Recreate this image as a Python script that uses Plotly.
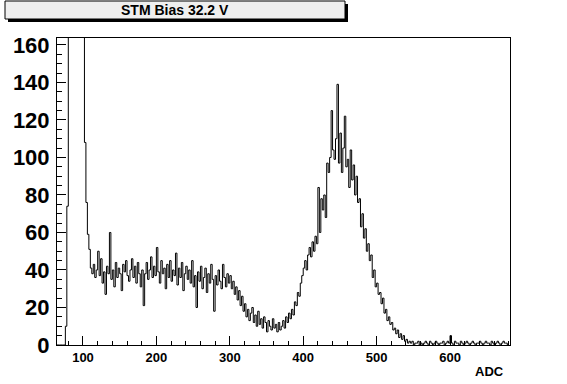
import plotly.graph_objects as go

# ---- data ----
title_text = "STM Bias 32.2 V"
x_title = "ADC"
bin_start = 64
bin_width = 2
counts = [
    0, 0, 0, 0, 0, 0, 10, 74, 190, 260,            # 64-82
    330, 380, 420, 430, 410, 380, 330, 270, 210, 108,  # 84-102
    76, 59, 51, 41, 38, 43, 36, 40, 50, 37,        # 104-122
    46, 33, 39, 27, 42, 38, 60, 35, 40, 31,        # 124-142
    44, 36, 41, 38, 29, 43, 39, 45, 37, 34,        # 144-162
    40, 46, 36, 42, 33, 44, 38, 31, 40, 21,        # 164-182
    38, 44, 35, 40, 47, 36, 42, 37, 52, 39,        # 184-202
    33, 45, 38, 41, 30, 43, 36, 45, 34, 40,        # 204-222
    37, 49, 32, 41, 36, 44, 29, 38, 42, 35,        # 224-242
    40, 33, 45, 31, 37, 20, 39, 34, 42, 30,        # 244-262
    36, 41, 28, 38, 33, 43, 35, 18, 37, 32,        # 264-282
    40, 34, 30, 43, 36, 31, 38, 33, 37, 30,        # 284-302
    34, 27, 31, 24, 29, 21, 26, 18, 22, 15,        # 304-322
    19, 13, 17, 20, 12, 16, 10, 18, 11, 14,        # 324-342
    9, 15, 12, 7, 13, 10, 8, 14, 9, 11,            # 344-362
    7, 12, 8, 10, 13, 9, 15, 12, 17, 14,           # 364-382
    19, 16, 23, 21, 28, 26, 33, 37, 41, 45,        # 384-402
    40, 48, 52, 47, 55, 50, 58, 54, 84, 60,        # 404-422
    78, 72, 80, 68, 97, 92, 100, 125, 104, 99,     # 424-442
    110, 139, 97, 113, 92, 105, 122, 95, 99, 84,   # 444-462
    104, 88, 96, 80, 90, 76, 78, 63, 70, 57,       # 464-482
    62, 50, 54, 45, 48, 36, 40, 31, 33, 27,        # 484-502
    28, 22, 25, 17, 19, 13, 15, 11, 12, 8,         # 504-522
    9, 6, 8, 4, 6, 3, 5, 2, 3, 1,                  # 524-542
    2, 1, 2, 0, 1, 1, 2, 0, 1, 0,                  # 544-562
    1, 2, 1, 0, 2, 1, 0, 1, 2, 1,                  # 564-582
    0, 1, 1, 2, 0, 1, 2, 1, 5, 1,                  # 584-602
    0, 2, 1, 1, 0, 2, 1, 0, 1, 2,                  # 604-622
    1, 0, 1, 2, 1, 0, 1, 1, 2, 1,                  # 624-642
    0, 1, 2, 1, 1, 0, 2, 1, 0, 1,                  # 644-662
    2, 1, 0, 1, 2, 1, 1, 0,                        # 664-678
]
x_ticks = [100, 200, 300, 400, 500, 600]
y_ticks = [0, 20, 40, 60, 80, 100, 120, 140, 160]

# ---- build step outline ----
edges = [bin_start + bin_width * i for i in range(len(counts) + 1)]
ys = counts + [counts[-1]]

W, H = 567, 384
L, R, T, B = 57, 510, 38, 345  # plot area in pixels


def px(x):
    return (x - L) / (R - L)


def py(y):
    return (B - y) / (B - T)


fig = go.Figure()
fig.add_trace(go.Scatter(
    x=edges, y=ys, mode="lines", line=dict(color="black", width=1, shape="hv"),
    hoverinfo="skip", showlegend=False,
))

bold13 = dict(family="Liberation Sans, Arial, sans-serif", size=13, color="black", weight="bold")
bold22 = dict(family="Liberation Sans, Arial, sans-serif", size=22, color="black", weight="bold")

fig.update_layout(
    width=W, height=H,
    margin=dict(l=L, r=W - R, t=T, b=H - B, pad=0),
    paper_bgcolor="white", plot_bgcolor="white",
    showlegend=False,
)
fig.update_xaxes(
    range=[64.6, 681.7], tickmode="array", tickvals=x_ticks,
    ticks="inside", ticklen=9, tickcolor="black", tickwidth=1,
    showline=True, linecolor="black", linewidth=1, mirror=True,
    showgrid=False, zeroline=False, tickfont=bold13,
    minor=dict(ticks="inside", ticklen=4, dtick=20, tick0=0, tickcolor="black", showgrid=False),
)
fig.update_yaxes(
    range=[0, 163.7], tickmode="array", tickvals=y_ticks,
    ticks="inside", ticklen=9, tickcolor="black", tickwidth=1,
    showline=True, linecolor="black", linewidth=1, mirror=True,
    showgrid=False, zeroline=False, tickfont=bold22, ticklabelstandoff=2,
    minor=dict(ticks="inside", ticklen=5, dtick=5, tick0=0, tickcolor="black", showgrid=False),
)

# title box with shadow
fig.add_shape(type="rect", xref="paper", yref="paper",
              x0=px(8), x1=px(348), y0=py(22), y1=py(4),
              fillcolor="black", line=dict(width=0), layer="above")
fig.add_shape(type="rect", xref="paper", yref="paper",
              x0=px(5), x1=px(345), y0=py(19), y1=py(1),
              fillcolor="#efefef", line=dict(color="black", width=1), layer="above")
fig.add_annotation(text=title_text, xref="paper", yref="paper",
                   x=px(175), y=py(10.5), xanchor="center", yanchor="middle",
                   showarrow=False, font=dict(family="Liberation Sans, Arial, sans-serif",
                                              size=14, color="black", weight="bold"))
fig.add_annotation(text=x_title, xref="paper", yref="paper",
                   x=px(506), y=py(371), xanchor="right", yanchor="middle",
                   showarrow=False, font=bold13)

fig.write_html(
    "out.html",
    config={"displayModeBar": False, "staticPlot": True},
    post_script="document.body.style.margin='0';document.body.style.padding='0';"
                "document.documentElement.style.overflow='hidden';",
)
